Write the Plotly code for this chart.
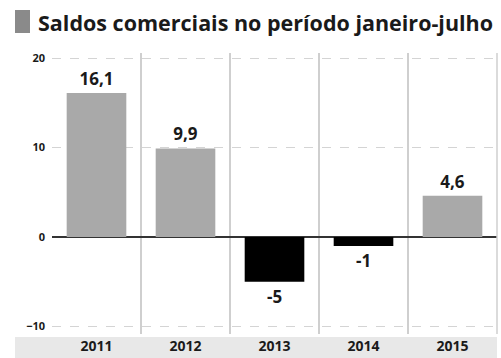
import plotly.graph_objects as go

years = ["2011", "2012", "2013", "2014", "2015"]
saldos = [16.1, 9.9, -5, -1, 4.6]
y_ticks = [-10, 0, 10, 20]
title_text = "Saldos comerciais no período janeiro-julho"

W, H = 501, 358
ML, MR, MT, MB = 52, 4, 53, 24
PW, PH = W - ML - MR, H - MT - MB

colors = ["#a9a9a9" if v >= 0 else "#000000" for v in saldos]
labels = [f"{v:g}".replace(".", ",") for v in saldos]

fig = go.Figure(go.Bar(
    x=years, y=saldos, marker_color=colors, marker_line_width=0,
    text=labels, textposition="outside", cliponaxis=False,
    textfont=dict(family="Open Sans", size=17, color="#1a1a1a", weight="bold"),
    width=0.67,
))

def px_x(p):
    return (p - ML) / PW

def px_y(p):
    return (H - MB - p) / PH

fig.update_layout(
    width=W, height=H,
    margin=dict(l=ML, r=MR, t=MT, b=MB),
    paper_bgcolor="white", plot_bgcolor="white",
    showlegend=False,
    xaxis=dict(
        type="category", tickson="boundaries", showgrid=True,
        gridcolor="#cfcfcf", gridwidth=1.5, showline=False, ticks="",
        tickfont=dict(family="Open Sans", size=14, color="#1a1a1a", weight="bold"),
        ticklabelstandoff=2, zeroline=False,
    ),
    yaxis=dict(
        range=[-10.84, 20.56], tickvals=y_ticks,
        showgrid=True, gridcolor="#d4d4d4", gridwidth=1, griddash="dash",
        zeroline=True, zerolinecolor="#333333", zerolinewidth=2,
        tickfont=dict(family="Open Sans", size=11, color="#1a1a1a", weight="bold"),
        ticks="", ticklabelstandoff=6,
    ),
    shapes=[
        dict(type="rect", xref="paper", yref="paper",
             x0=px_x(15), x1=px_x(497), y0=px_y(358), y1=px_y(337),
             fillcolor="#e8e8e8", line_width=0, layer="below"),
        dict(type="rect", xref="paper", yref="paper",
             x0=px_x(15), x1=px_x(30), y0=px_y(33), y1=px_y(10),
             fillcolor="#8a8a8a", line_width=0),
        dict(type="line", xref="paper", yref="paper",
             x0=1, x1=1, y0=0, y1=1, line=dict(color="#cfcfcf", width=1.5)),
    ],
    annotations=[
        dict(text=title_text, xref="paper", yref="paper",
             x=px_x(36), y=px_y(6), xanchor="left", yanchor="top",
             showarrow=False,
             font=dict(family="Open Sans", size=21.5, color="#1a1a1a", weight="bold")),
    ],
)

fig.write_html("out.html")
